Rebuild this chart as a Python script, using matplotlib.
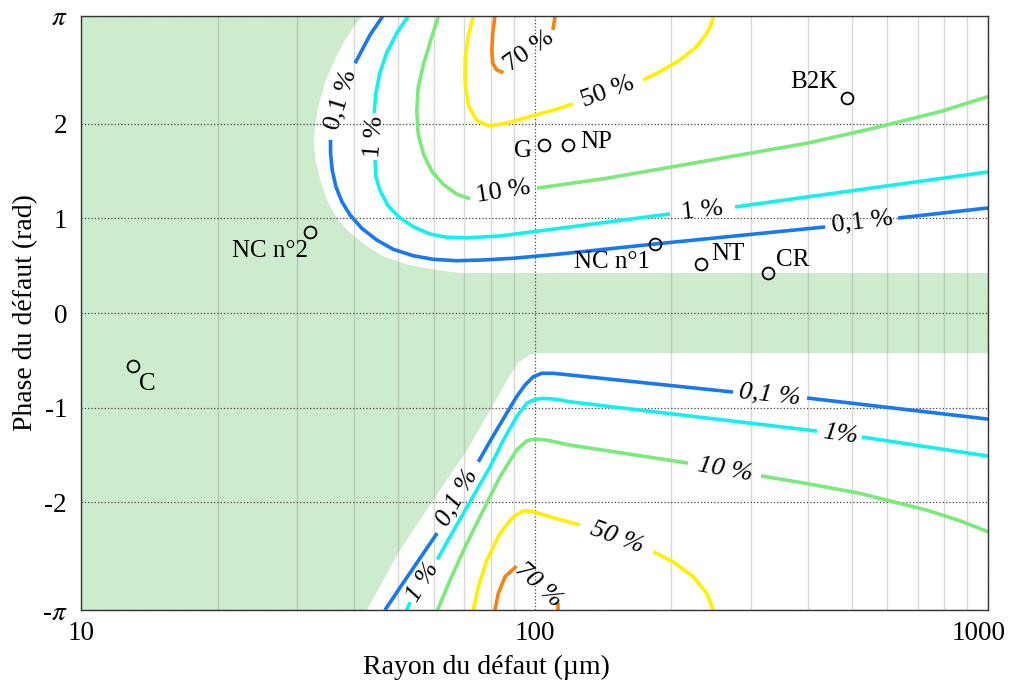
import numpy as np
import matplotlib
matplotlib.use("Agg")
import matplotlib.pyplot as plt
from matplotlib.transforms import ScaledTranslation

plt.rcParams['font.family'] = ['Liberation Serif', 'DejaVu Serif']
plt.rcParams['mathtext.fontset'] = 'stix'

PI = np.pi

# couleurs des niveaux
c_01 = '#1878f0'
c_1 = '#12f0f0'
c_10 = '#7aea7a'
c_50 = '#fff000'
c_70 = '#f7820f'

# zones blanches (le reste du plan est vert)
up_white_x = [41.9, 39.8, 37.9, 36.0, 34.5, 33.4, 32.8, 32.6, 32.9, 33.7, 34.8, 36.6, 39.2,
              42.7, 46.3, 52.3, 59.7, 68.5, 1000, 1000]
up_white_y = [PI, 3.018, 2.859, 2.647, 2.436, 2.188, 1.977, 1.801, 1.624, 1.413, 1.201, 1.007,
              0.848, 0.707, 0.601, 0.513, 0.460, 0.423, 0.423, PI]
low_white_x = [101.3, 97.8, 91.9, 87.0, 83.9, 71.0, 59.8, 50.5, 42.7, 1000, 1000]
low_white_y = [-0.423, -0.439, -0.529, -0.709, -0.847, -1.450, -1.979, -2.508, -PI, -PI, -0.423]

# iso-contours, chaque niveau en morceaux (coupes par les etiquettes)
up_01 = [
    ([46.3, 43.4, 40.2], [PI, 2.942, 2.642]),
    ([35.5, 35.5, 35.8, 36.5, 37.6, 39.2, 41.6, 44.9, 48.8, 54.0, 59.8, 67.4, 77.1, 89.8, 113.8,
      184.4, 437.2],
     [1.831, 1.693, 1.513, 1.333, 1.178, 1.037, 0.896, 0.772, 0.674, 0.606, 0.568, 0.553, 0.561,
      0.579, 0.624, 0.730, 0.910]),
    ([633.3, 1000], [1.005, 1.111]),
]
up_1 = [
    ([52.7, 49.7, 47.2, 45.6, 44.7, 44.3], [PI, 2.963, 2.751, 2.540, 2.328, 2.116]),
    ([44.5, 44.7, 45.6, 47.4, 50.1, 54.0, 58.8, 64.0, 70.9, 83.9, 113.8, 199.0],
     [1.619, 1.442, 1.302, 1.143, 1.019, 0.913, 0.836, 0.801, 0.794, 0.815, 0.896, 1.048]),
    ([276.8, 1000], [1.122, 1.492]),
]
up_10 = [
    ([61.4, 59.3, 56.9, 55.4, 55.0, 55.4, 56.9, 59.3, 62.9, 67.4, 72.1],
     [PI, 2.913, 2.632, 2.385, 2.138, 1.891, 1.680, 1.503, 1.362, 1.256, 1.209]),
    ([101.3, 144.3, 202.3, 283.9, 398.2, 558.6, 784.0, 1000],
     [1.321, 1.425, 1.548, 1.672, 1.795, 1.954, 2.130, 2.289]),
]
up_50 = [
    ([73.3, 71.5, 70.3, 70.3, 71.5, 74.6, 79.1, 85.4, 99.4, 113.8, 121.6],
     [PI, 2.934, 2.688, 2.441, 2.194, 2.035, 1.982, 2.000, 2.088, 2.166, 2.212]),
    ([173.8, 189.1, 209.4, 227.9, 239.8, 245.9, 247.9], [2.466, 2.553, 2.677, 2.818, 2.960, 3.065, PI]),
]
up_70 = [
    ([81.8, 80.9, 80.5, 80.9, 82.5, 85.4], [PI, 2.963, 2.783, 2.642, 2.571, 2.543]),
    ([111.0, 109.8], [PI, 2.995]),
]
low_01 = [
    ([46.8, 51.3, 61.0], [-PI, -2.857, -2.328]),
    ([75.2, 78.5, 82.5, 86.8, 91.3, 95.3, 99.4, 103.7, 110.0, 119.8, 274.0],
     [-1.574, -1.415, -1.238, -1.061, -0.885, -0.762, -0.674, -0.638, -0.638, -0.656, -0.836]),
    ([399.0, 1000], [-0.899, -1.122]),
]
low_1 = [
    ([52.2, 53.2], [-PI, -3.06]),
    ([61.1, 65.1, 69.7, 74.6, 79.8, 85.4, 91.3, 96.1, 100.3, 104.6, 111.9, 119.8, 419.8],
     [-2.606, -2.367, -2.119, -1.873, -1.626, -1.344, -1.097, -0.955, -0.913, -0.903, -0.913,
      -0.939, -1.249]),
    ([527.6, 1000], [-1.312, -1.513]),
]
low_10 = [
    ([61.1, 65.1, 70.9, 77.1, 83.9, 91.3, 96.1, 100.3, 106.4, 119.8, 218.1],
     [-PI, -2.825, -2.437, -2.085, -1.732, -1.450, -1.352, -1.333, -1.344, -1.397, -1.587]),
    ([315.8, 405.1, 522.2, 618.4, 732.8, 867.8, 1000],
     [-1.722, -1.810, -1.908, -1.997, -2.085, -2.198, -2.314]),
]
low_50 = [
    ([73.3, 75.2, 78.5, 83.9, 89.8, 94.5, 99.4, 108.2, 119.8, 126.0],
     [-PI, -2.896, -2.614, -2.331, -2.155, -2.091, -2.102, -2.155, -2.215, -2.243]),
    ([182.8, 202.3, 224.0, 239.8, 247.9], [-2.526, -2.632, -2.790, -2.966, -PI]),
]
low_70 = [
    ([81.8, 83.2, 86.1, 91.3], [-PI, -2.966, -2.790, -2.677]),
    ([112.7, 112.7], [-3.069, -PI]),
]

# etiquettes des niveaux : texte, x, y, rotation, italique
lvl_labels = [
    ('0,1 %', 37.5, 2.254, 73, False),
    ('1 %', 44.3, 1.862, 86, False),
    ('10 %', 85.2, 1.280, 9, False),
    ('50 %', 145.3, 2.339, 20, False),
    ('70 %', 97.3, 2.772, 35, False),
    ('1 %', 234.1, 1.079, 6, False),
    ('0,1 %', 527.6, 0.963, 7, False),
    ('0,1 %', 67.5, -1.947, 60, True),
    ('1 %', 56.8, -2.847, 58, True),
    ('0,1 %', 330.6, -0.868, -6, True),
    ('1%', 471.8, -1.280, -8, True),
    ('10 %', 263.1, -1.661, -10, True),
    ('50 %', 152.0, -2.381, -20, True),
    ('70 %', 101.8, -2.878, -42, True),
]

# defauts
pts_name = ['C', 'NC n°2', 'G', 'NP', 'NC n°1', 'NT', 'CR', 'B2K']
pts_x = [13.02, 32.0, 105.0, 118.6, 184.4, 232.9, 327.0, 488.7]
pts_y = [-0.561, 0.857, 1.778, 1.778, 0.730, 0.519, 0.423, 2.275]
lab_x = [13.98, 31.7, 94.3, 126.0, 179.8, 245.0, 340.8, 467.0]
lab_y = [-0.751, 0.656, 1.714, 1.810, 0.540, 0.624, 0.561, 2.444]
lab_ha = ['center', 'right', 'center', 'left', 'right', 'left', 'left', 'right']

fig = plt.figure(figsize=(10.11, 6.80), dpi=100)
ax = fig.add_axes([0.0801, 0.1029, 0.8972, 0.8736])
ax.set_facecolor('#cdeccd')
ax.set_xscale('log')
ax.set_xlim(10, 1000)
ax.set_ylim(-PI, PI)

ax.fill(up_white_x, up_white_y, color='white', lw=0, zorder=0.1)
ax.fill(low_white_x, low_white_y, color='white', lw=0, zorder=0.1)

ax.set_axisbelow(True)
ax.grid(True, which='major', ls=':', color='#444444', lw=0.9)
ax.grid(True, which='minor', axis='x', ls='-', color='#808080', alpha=0.3, lw=1)

for segs, col in [(up_01, c_01), (up_1, c_1), (up_10, c_10), (up_50, c_50), (up_70, c_70),
                  (low_01, c_01), (low_1, c_1), (low_10, c_10), (low_50, c_50), (low_70, c_70)]:
    for xs, ys in segs:
        ax.plot(xs, ys, color=col, lw=2.6, solid_capstyle='butt', solid_joinstyle='round', zorder=2)

for txt, x, y, rot, it in lvl_labels:
    ax.text(x, y, txt, rotation=rot, fontsize=19, ha='center', va='center',
            style='italic' if it else 'normal', rotation_mode='anchor', zorder=3)

ax.plot(pts_x, pts_y, 'o', ms=8.5, mfc='none', mec='black', mew=1.3, zorder=4)
for n, x, y, ha in zip(pts_name, lab_x, lab_y, lab_ha):
    ax.text(x, y, n, fontsize=18, ha=ha, va='center', zorder=4)

ax.set_yticks([-PI, -2, -1, 0, 1, 2, PI])
ax.set_yticklabels(['-$\\pi$', '-2', '-1', '0', '1', '2', '$\\pi$'])
ax.set_xticks([10, 100, 1000])
ax.set_xticklabels(['10', '100', '1000'])
ax.tick_params(which='both', length=0, labelsize=19.5)
ax.tick_params(axis='x', pad=8)
ax.tick_params(axis='y', pad=10)

# "1000" un peu decale vers la gauche comme sur l'original
lab1000 = ax.xaxis.get_major_ticks()[-1].label1
lab1000.set_transform(lab1000.get_transform() + ScaledTranslation(-7 / 72, 0, fig.dpi_scale_trans))

for s in ax.spines.values():
    s.set_color('#333333')
    s.set_linewidth(1.0)

ax.set_xlabel('Rayon du défaut (µm)', fontsize=20, labelpad=4)
ax.xaxis.set_label_coords(0.4466, -0.075)
ax.set_ylabel('Phase du défaut (rad)', fontsize=20, labelpad=4)
ax.yaxis.set_label_coords(-0.047, 0.5)

fig.savefig('out.png', dpi=100)
